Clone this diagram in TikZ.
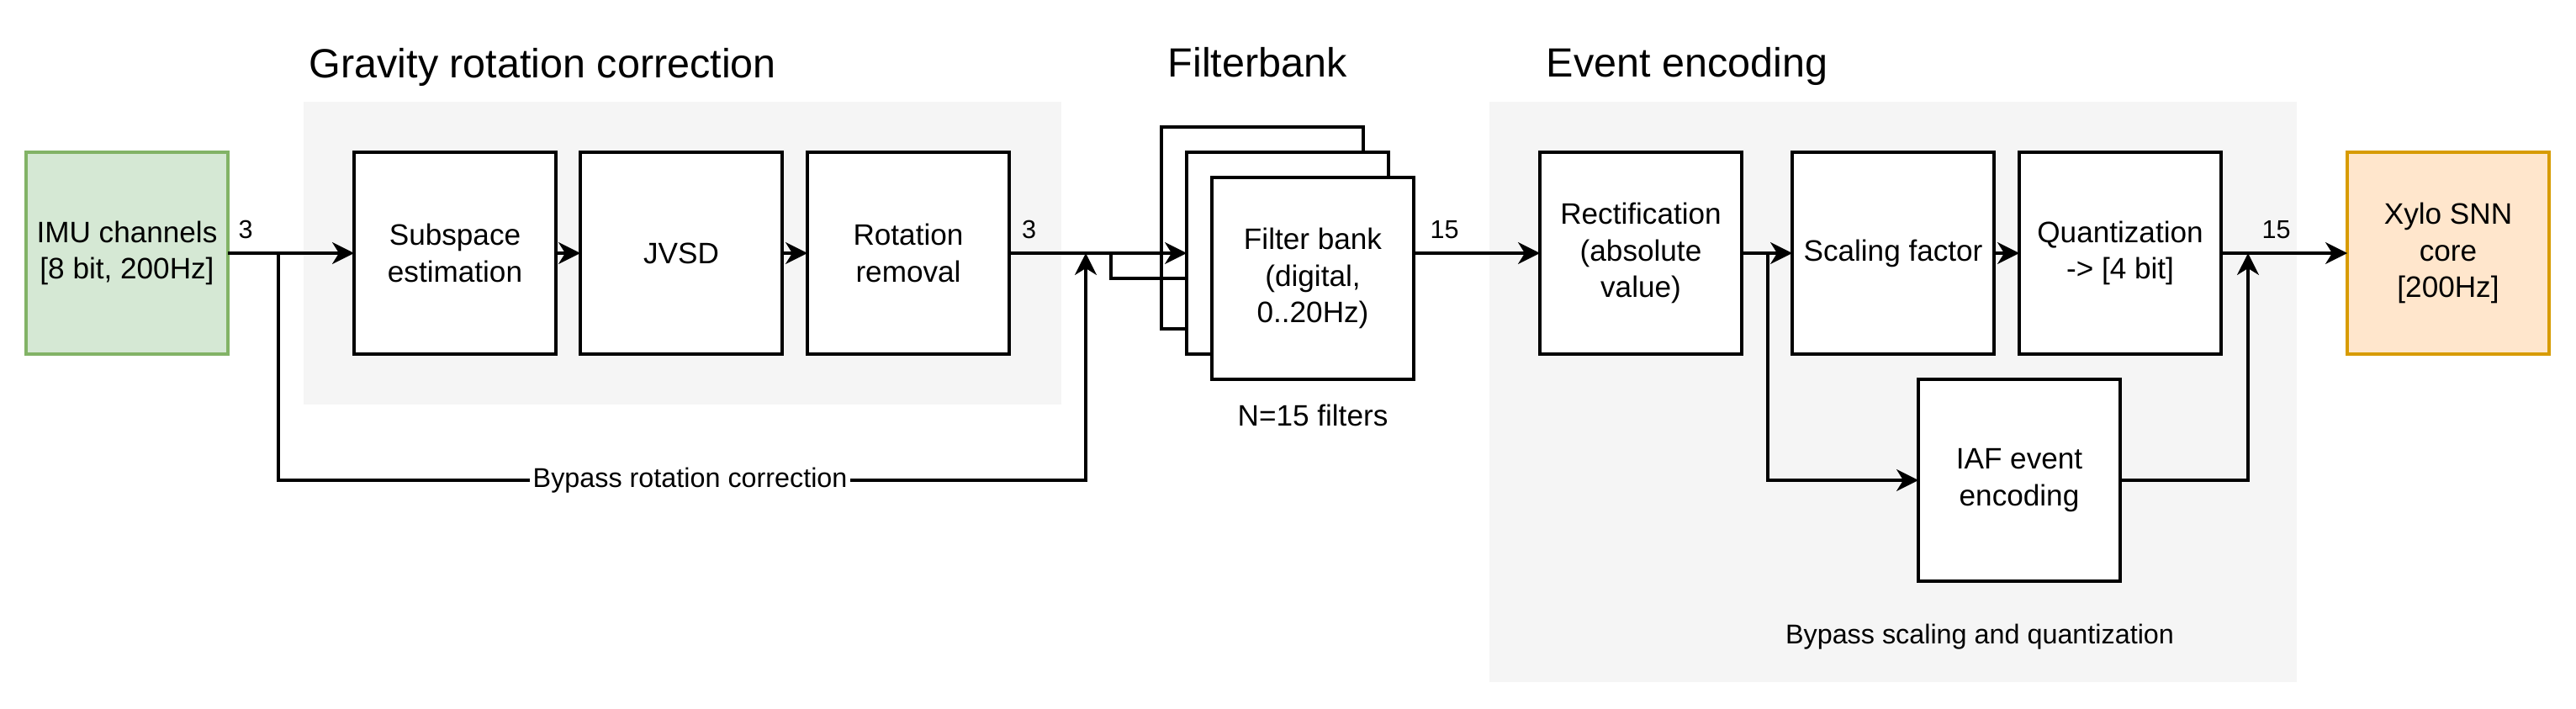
\documentclass[tikz,border=0pt]{standalone}
\usepackage{fontspec}
\setmainfont{Liberation Sans}
\usetikzlibrary{arrows.meta,calc,positioning}

\definecolor{panelgray}{HTML}{F5F5F5}
\definecolor{imufill}{HTML}{D5E8D4}
\definecolor{imudraw}{HTML}{82B366}
\definecolor{xylofill}{HTML}{FFE6CC}
\definecolor{xylodraw}{HTML}{D79B00}

\begin{document}
\begin{tikzpicture}[
	block/.style={draw, line width=0.9pt, fill=white, minimum width=2.4cm, minimum height=2.4cm,
		inner sep=2pt, outer sep=0pt, align=center, font=\fontsize{10}{12.4}\selectfont},
	flow/.style={line width=0.9pt, -{Stealth[length=2.6mm,width=2.6mm,inset=0.8mm]}},
	wire/.style={line width=0.9pt},
	numlbl/.style={font=\fontsize{8.7}{10}\selectfont, inner sep=0pt, anchor=south west, yshift=0.16cm},
	bypasslbl/.style={font=\fontsize{9.2}{11}\selectfont, fill=white, inner sep=1pt},
	notelbl/.style={font=\fontsize{9.2}{11}\selectfont, inner sep=0pt},
	title/.style={font=\fontsize{13.8}{17}\selectfont, anchor=base west, inner sep=0pt}
	]
	\useasboundingbox (0,0) rectangle (30.63,-8.43);
	
	% Grey panels behind the stages
	\fill[panelgray] (3.61,-1.21) rectangle (12.62,-4.81);
	\fill[panelgray] (17.71,-1.21) rectangle (27.31,-8.11);
	
	% Stage titles
	\node[title] (tgrav) at (3.67,-0.92) {Gravity rotation correction};
	\node[title] (tfilt) at (13.88,-0.91) {Filterbank};
	\node[title] (tenc) at (18.38,-0.91) {Event encoding};
	
	% Input and gravity correction
	\node[block, fill=imufill, draw=imudraw] (imu) at (1.51,-3.01) {IMU channels\\{[}8 bit, 200Hz{]}};
	\node[block, right=1.5cm of imu] (subspace) {Subspace\\estimation};
	\node[block, right=0.29cm of subspace] (jvsd) {JVSD};
	\node[block, right=0.3cm of jvsd] (rotrem) {Rotation\\removal};
	
	% Filterbank (stacked copies)
	\coordinate (fbc) at (15.31,-3.01);
	\node[block] (fbback) at ($(fbc)+(-0.3,0.3)$) {};
	\node[block] (fbmid) at (fbc) {};
	\node[block] (fbfront) at ($(fbc)+(0.3,-0.3)$) {Filter bank\\(digital,\\0..20Hz)};
	\node[font=\fontsize{10}{12}\selectfont, inner sep=0pt] (nfilt) at (15.61,-4.94) {N=15 filters};
	
	% Event encoding
	\node[block] (rectif) at (19.51,-3.01) {Rectification\\(absolute\\value)};
	\node[block, right=0.6cm of rectif] (scaling) {Scaling factor};
	\node[block, right=0.3cm of scaling] (quant) {Quantization\\-> {[}4 bit{]}};
	\node[block, fill=xylofill, draw=xylodraw, right=1.5cm of quant] (xylo) {Xylo SNN\\core\\{[}200Hz{]}};
	\node[block] (iaf) at (24.01,-5.71) {IAF event\\encoding};
	\node[notelbl] (bypassnote) at (23.54,-7.57) {Bypass scaling and quantization};
	
	% Branch points
	\coordinate (imusplit) at (3.31,-3.01);
	\coordinate (fbjoin) at (12.91,-3.01);
	\coordinate (fbsplit) at (13.21,-3.01);
	\coordinate (bypassrow) at (0,-5.71);
	\coordinate (rsplit) at (21.02,-3.01);
	\coordinate (qjoin) at (26.73,-3.01);
	
	% Main signal path
	\draw[flow] (imu) -- (subspace) node[numlbl, pos=0, xshift=0.11cm] {3};
	\draw[flow] (subspace) -- (jvsd);
	\draw[flow] (jvsd) -- (rotrem);
	\draw[flow] (rotrem) -- (fbmid) node[numlbl, pos=0, xshift=0.135cm] {3};
	\draw[wire] (fbsplit) |- ($(fbmid.west)+(0,-0.3)$);
	\draw[flow] (fbfront.east |- rectif) -- (rectif) node[numlbl, pos=0, xshift=0.18cm] {15};
	\draw[flow] (rectif) -- (scaling);
	\draw[flow] (scaling) -- (quant);
	\draw[flow] (quant) -- (xylo) node[numlbl, pos=0, xshift=0.47cm] {15};
	
	% Bypass paths
	\draw[flow] (imusplit) -- (imusplit |- bypassrow)
		-- node[bypasslbl, pos=0.51] {Bypass rotation correction} (fbjoin |- bypassrow) -- (fbjoin);
	\draw[flow] (rsplit) |- (iaf);
	\draw[flow] (iaf) -| (qjoin);
	
\end{tikzpicture}
\end{document}
